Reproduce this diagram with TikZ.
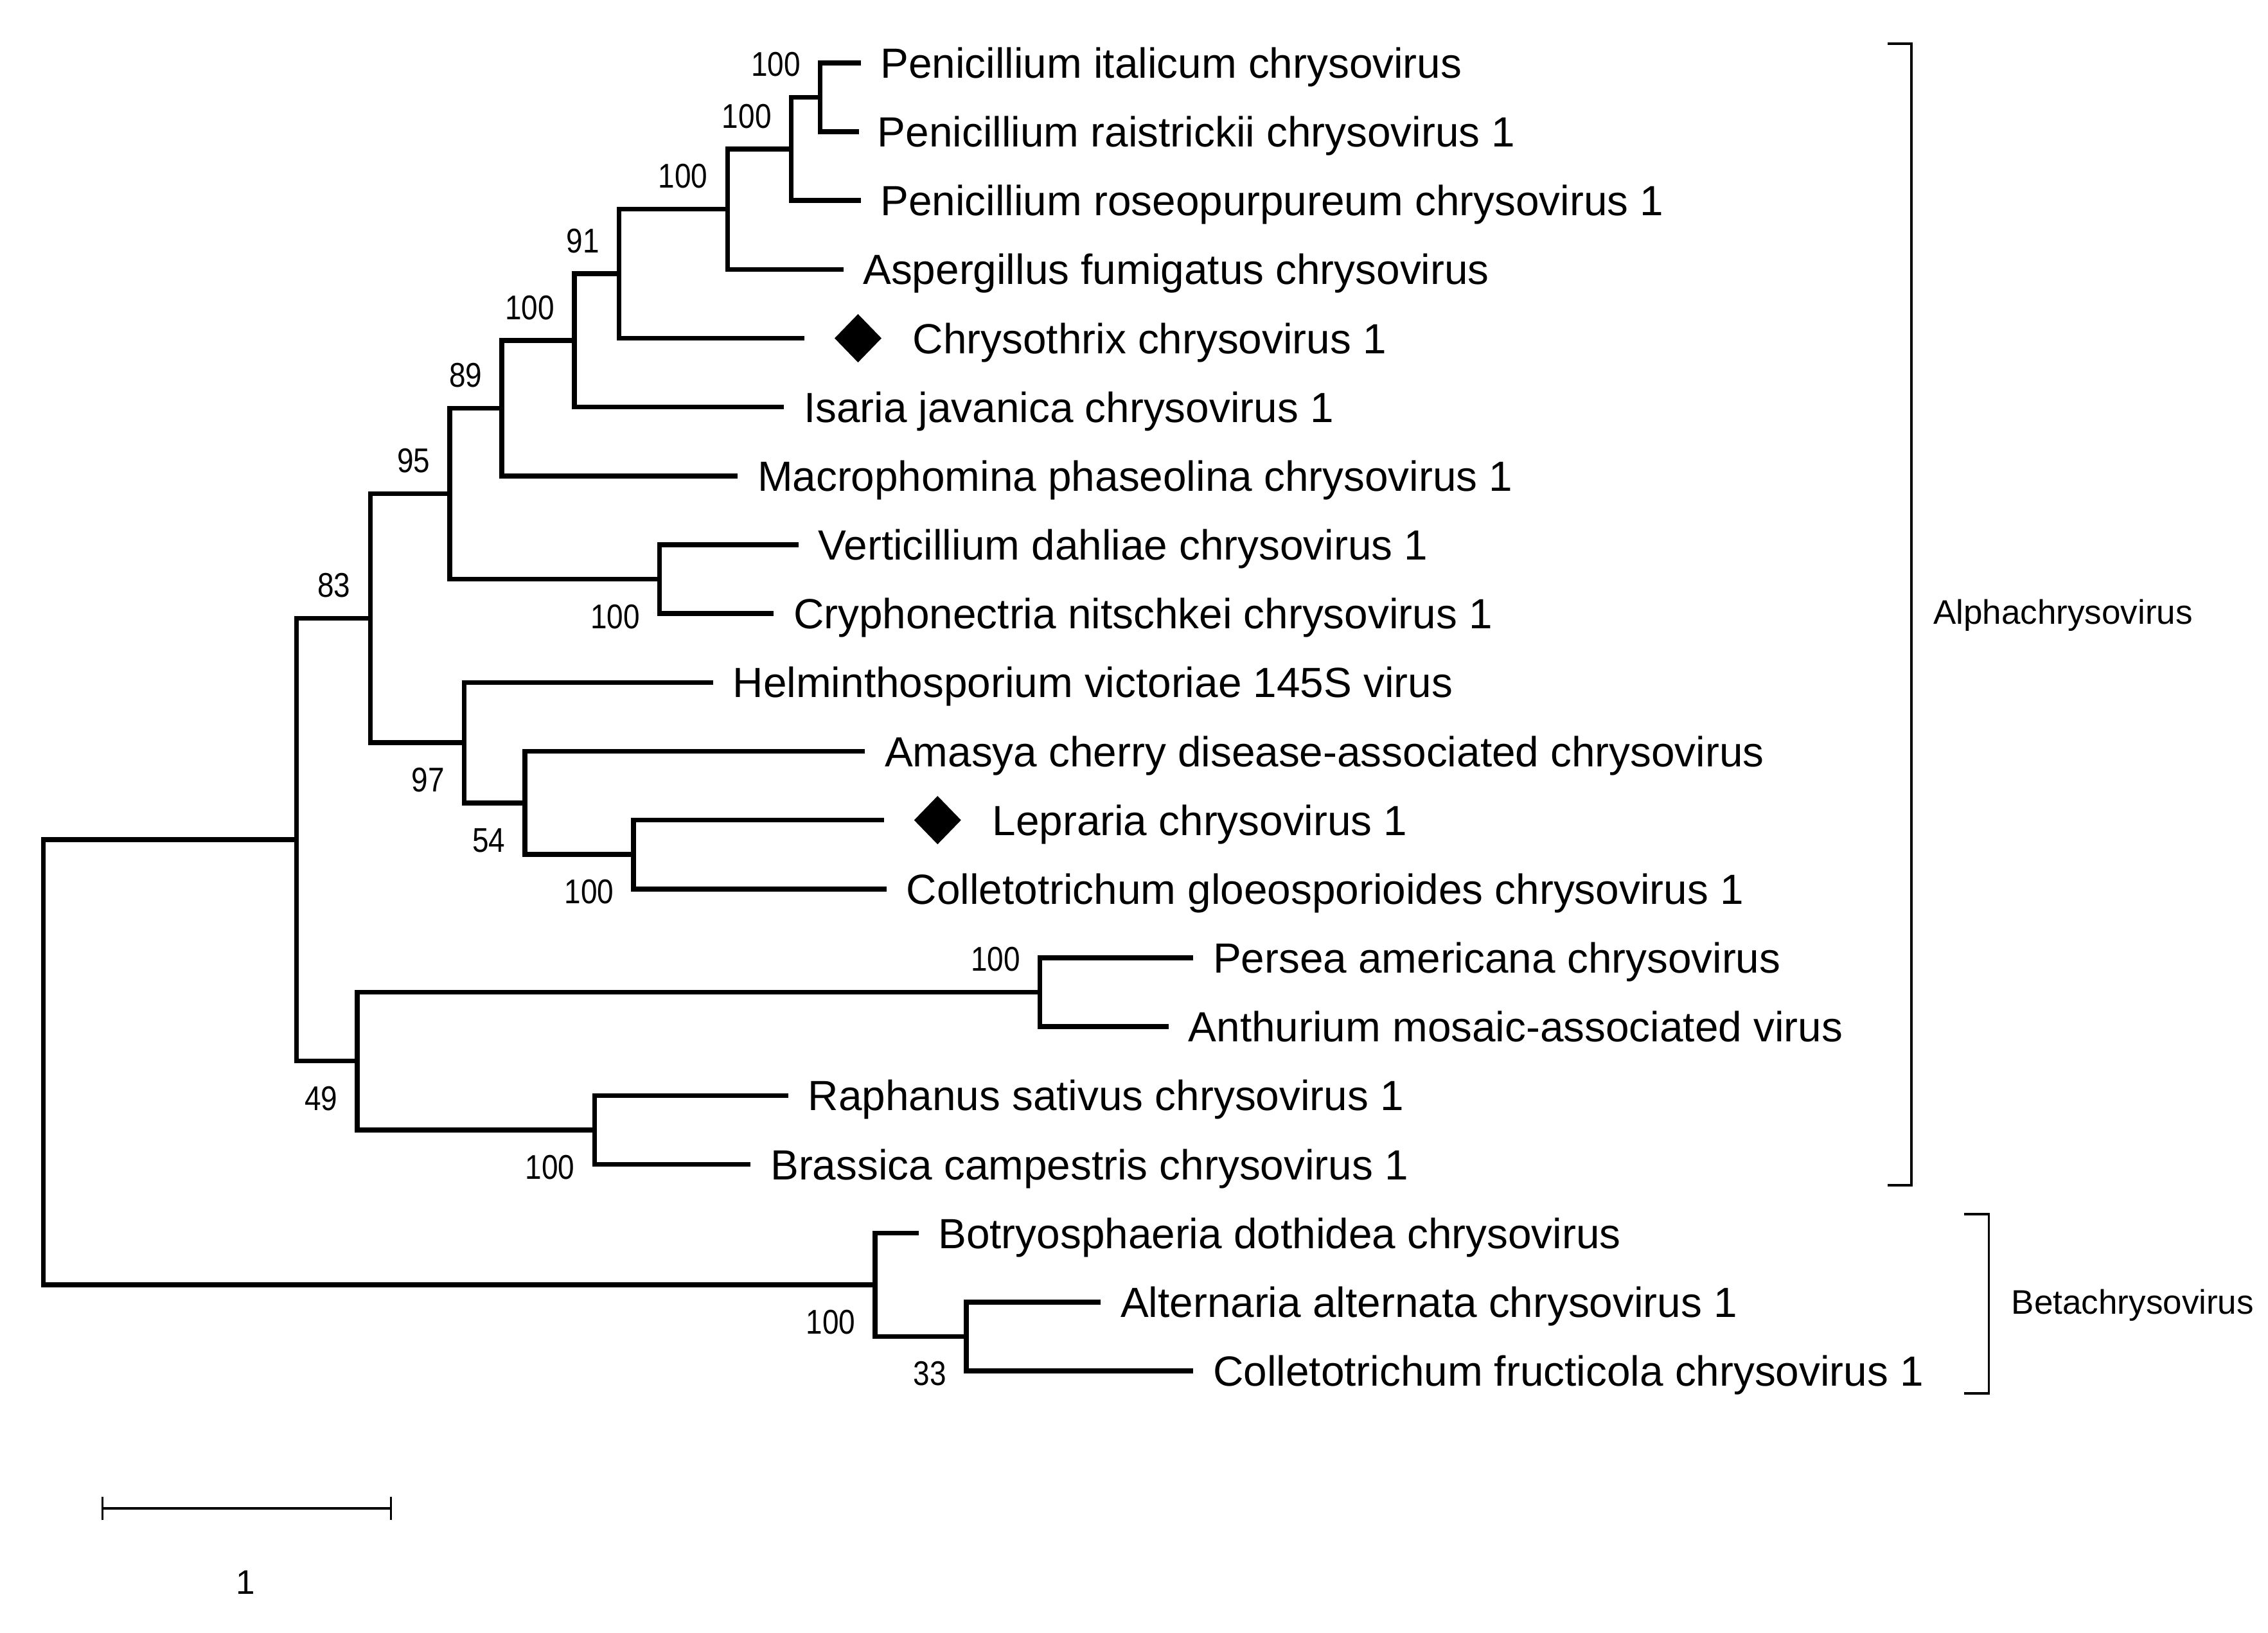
\documentclass[tikz,border=0pt]{standalone}
\usepackage{fontspec}
\setmainfont{Liberation Sans}
\newfontfamily\bootfont[FakeStretch=0.86]{Liberation Sans}
\usetikzlibrary{positioning, shapes.geometric, arrows.meta}

\begin{document}
\begin{tikzpicture}[
    x=0.1mm, y=-0.1mm,
    node distance=1.3mm,
    branch/.style={draw, line width=0.95pt},
    thinline/.style={draw, line width=0.42pt},
    leaf/.style={font=\fontsize{8.3}{10}\selectfont, inner sep=0pt, text height=5.95pt, text depth=0pt},
    boot/.style={font=\bootfont\fontsize{6.75}{8}\selectfont, inner sep=0pt, text height=4.8pt, text depth=0pt, anchor=east, xshift=-1.3mm},
    bsup/.style={boot, yshift=2.3mm},
    bsdown/.style={boot, yshift=-2.55mm},
    grp/.style={font=\fontsize{6.7}{8}\selectfont, inner sep=0pt},
    gem/.style={diamond, fill=black, inner sep=0pt, minimum width=3.3mm, minimum height=3.4mm}
  ]
  \useasboundingbox (0,0) rectangle (1568,1129);

  % leaf tips
  \coordinate (l1) at (595,43.5);
  \coordinate (l2) at (594,91.1);
  \coordinate (l3) at (595,138.7);
  \coordinate (l4) at (583,186.3);
  \coordinate (l5) at (556,233.9);
  \coordinate (l6) at (542,281.5);
  \coordinate (l7) at (510,329.1);
  \coordinate (l8) at (552,376.7);
  \coordinate (l9) at (535,424.3);
  \coordinate (l10) at (493,471.9);
  \coordinate (l11) at (598,519.5);
  \coordinate (l12) at (611,567.1);
  \coordinate (l13) at (613,614.7);
  \coordinate (l14) at (825,662.3);
  \coordinate (l15) at (808,709.9);
  \coordinate (l16) at (545,757.5);
  \coordinate (l17) at (519,805.1);
  \coordinate (l18) at (635,852.7);
  \coordinate (l19) at (761,900.3);
  \coordinate (l20) at (825,947.9);

  % inner nodes
  \coordinate (n1) at (567,67.3);
  \coordinate (n2) at (547,103);
  \coordinate (n3) at (503,144.65);
  \coordinate (n4) at (428,189.3);
  \coordinate (n5) at (397,235.4);
  \coordinate (n6) at (347,282.25);
  \coordinate (n7) at (456,400.5);
  \coordinate (n8) at (311,341.4);
  \coordinate (n9) at (438,590.9);
  \coordinate (n10) at (363,555.2);
  \coordinate (n11) at (321,513.55);
  \coordinate (n12) at (256,427.5);
  \coordinate (n13) at (719,686.1);
  \coordinate (n14) at (411,781.3);
  \coordinate (n15) at (247,733.7);
  \coordinate (n16) at (205,580.6);
  \coordinate (n17) at (668,924.1);
  \coordinate (n18) at (605,888.4);
  \coordinate (root) at (30,734.5);

  % branches
  \draw[branch] (l1) -| (n1) |- (l2);
  \draw[branch] (n1) -| (n2) |- (l3);
  \draw[branch] (n2) -| (n3) |- (l4);
  \draw[branch] (n3) -| (n4) |- (l5);
  \draw[branch] (n4) -| (n5) |- (l6);
  \draw[branch] (n5) -| (n6) |- (l7);
  \draw[branch] (l8) -| (n7) |- (l9);
  \draw[branch] (n6) -| (n8) |- (n7);
  \draw[branch] (l12) -| (n9) |- (l13);
  \draw[branch] (l11) -| (n10) |- (n9);
  \draw[branch] (l10) -| (n11) |- (n10);
  \draw[branch] (n8) -| (n12) |- (n11);
  \draw[branch] (l14) -| (n13) |- (l15);
  \draw[branch] (l16) -| (n14) |- (l17);
  \draw[branch] (n13) -| (n15) |- (n14);
  \draw[branch] (n12) -| (n16) |- (n15);
  \draw[branch] (l19) -| (n17) |- (l20);
  \draw[branch] (l18) -| (n18) |- (n17);
  \draw[branch] (n16) -| (root) |- (n18);

  % taxa
  \node[leaf, right=of l1] (t1) {Penicillium italicum chrysovirus};
  \node[leaf, right=1.2mm of l2] (t2) {Penicillium raistrickii chrysovirus 1};
  \node[leaf, right=of l3] (t3) {Penicillium roseopurpureum chrysovirus 1};
  \node[leaf, right=of l4] (t4) {Aspergillus fumigatus chrysovirus};
  \node[gem, right=2mm of l5] (d5) {};
  \node[leaf, right=2mm of d5] (t5) {Chrysothrix chrysovirus 1};
  \node[leaf, right=of l6] (t6) {Isaria javanica chrysovirus 1};
  \node[leaf, right=of l7] (t7) {Macrophomina phaseolina chrysovirus 1};
  \node[leaf, right=of l8] (t8) {Verticillium dahliae chrysovirus 1};
  \node[leaf, right=of l9] (t9) {Cryphonectria nitschkei chrysovirus 1};
  \node[leaf, right=of l10] (t10) {Helminthosporium victoriae 145S virus};
  \node[leaf, right=of l11] (t11) {Amasya cherry disease-associated chrysovirus};
  \node[gem, right=2mm of l12] (d12) {};
  \node[leaf, right=2mm of d12] (t12) {Lepraria chrysovirus 1};
  \node[leaf, right=of l13] (t13) {Colletotrichum gloeosporioides chrysovirus 1};
  \node[leaf, right=of l14] (t14) {Persea americana chrysovirus};
  \node[leaf, right=of l15] (t15) {Anthurium mosaic-associated virus};
  \node[leaf, right=of l16] (t16) {Raphanus sativus chrysovirus 1};
  \node[leaf, right=of l17] (t17) {Brassica campestris chrysovirus 1};
  \node[leaf, right=of l18] (t18) {Botryosphaeria dothidea chrysovirus};
  \node[leaf, right=of l19] (t19) {Alternaria alternata chrysovirus 1};
  \node[leaf, right=of l20] (t20) {Colletotrichum fructicola chrysovirus 1};

  % bootstrap values
  \node[bsup] (b1) at (n1) {100};
  \node[bsup] (b2) at (n2) {100};
  \node[bsup] (b3) at (n3) {100};
  \node[bsup] (b4) at (n4) {91};
  \node[bsup] (b5) at (n5) {100};
  \node[bsup] (b6) at (n6) {89};
  \node[bsdown] (b7) at (n7) {100};
  \node[bsup] (b8) at (n8) {95};
  \node[bsdown] (b9) at (n9) {100};
  \node[bsdown] (b10) at (n10) {54};
  \node[bsdown] (b11) at (n11) {97};
  \node[bsup] (b12) at (n12) {83};
  \node[bsup] (b13) at (n13) {100};
  \node[bsdown] (b14) at (n14) {100};
  \node[bsdown] (b15) at (n15) {49};
  \node[bsdown] (b17) at (n17) {33};
  \node[bsdown] (b18) at (n18) {100};

  % genus brackets
  \coordinate (atop) at (1305,30.2);
  \coordinate (abot) at (1305,819.5);
  \draw[thinline] (atop) -- ++(16.5,0) |- (abot);
  \node[grp, anchor=base west] (alpha) at (1336,431.7) {Alphachrysovirus};
  \coordinate (btop) at (1358,839.5);
  \coordinate (bbot) at (1358,963.5);
  \draw[thinline] (btop) -- ++(17,0) |- (bbot);
  \node[grp, anchor=base west] (beta) at (1390,908.5) {Betachrysovirus};

  % scale bar
  \coordinate (sbl) at (70,1043);
  \coordinate (sbr) at (271,1043);
  \draw[thinline, {Bar[width=1.6mm]}-{Bar[width=1.6mm]}] (sbl) -- (sbr);
  \node[grp] (sblab) at (170,1094) {1};

\end{tikzpicture}
\end{document}
